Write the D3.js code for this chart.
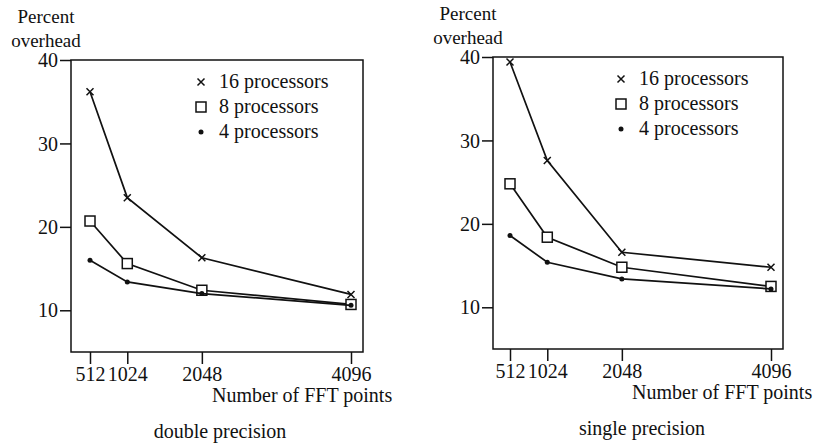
<!DOCTYPE html>
<html>
<head>
<meta charset="utf-8">
<script src="https://cdn.jsdelivr.net/npm/d3@7"></script>
<style>
  body { margin: 0; background: #fff; }
  svg { display: block; }
  text { font-family: "Liberation Serif", "Times New Roman", serif; fill: #111; }
</style>
</head>
<body>
<div id="chart"></div>
<script>
// data
const fftPoints = [512, 1024, 2048, 4096];
const yTickValues = [10, 20, 30, 40];
const seriesNames = ["16 processors", "8 processors", "4 processors"];
const seriesMarks = ["cross", "square", "dot"];

const double16 = [36.2, 23.5, 16.3, 11.9];
const double8 = [20.7, 15.6, 12.4, 10.7];
const double4 = [16.0, 13.4, 12.0, 10.6];

const single16 = [39.4, 27.6, 16.6, 14.8];
const single8 = [24.8, 18.4, 14.8, 12.5];
const single4 = [18.6, 15.4, 13.4, 12.2];

const width = 816, height = 443;

const svg = d3.select("#chart").append("svg")
    .attr("width", width)
    .attr("height", height);

// draw a marker of the given kind at (x, y)
function drawMark(g, kind, x, y) {
    if (kind === "cross") {
        const s = 3.5;
        g.append("path")
            .attr("d", `M${x - s},${y - s}L${x + s},${y + s}M${x - s},${y + s}L${x + s},${y - s}`)
            .attr("stroke", "#111").attr("stroke-width", 1.5).attr("fill", "none");
    } else if (kind === "square") {
        g.append("rect")
            .attr("x", x - 5).attr("y", y - 5)
            .attr("width", 10).attr("height", 10)
            .attr("fill", "#fff").attr("stroke", "#111").attr("stroke-width", 1.5);
    } else {
        g.append("circle")
            .attr("cx", x).attr("cy", y).attr("r", 2.5)
            .attr("fill", "#111");
    }
}

function drawPanel(box, series, title) {
    const g = svg.append("g");

    const xScale = d3.scaleLinear()
        .domain([512, 4096])
        .range([box.x0 + box.padL, box.x1 - 12]);
    const yScale = d3.scaleLinear()
        .domain([5, 40])
        .range([box.y1, box.y0]);

    // frame
    g.append("rect")
        .attr("x", box.x0).attr("y", box.y0)
        .attr("width", box.x1 - box.x0).attr("height", box.y1 - box.y0)
        .attr("fill", "none").attr("stroke", "#111").attr("stroke-width", 1.5);

    // y axis
    const yAxis = d3.axisLeft(yScale).tickValues(yTickValues).tickSize(11).tickPadding(2);
    const ya = g.append("g")
        .attr("transform", `translate(${box.x0},0)`)
        .call(yAxis);
    ya.select(".domain").remove();
    ya.selectAll("line").attr("stroke", "#111").attr("stroke-width", 1.5);
    ya.selectAll("text").style("font-size", "20px").style("font-family", "Liberation Serif").attr("dy", "0.33em");

    // x axis
    const xAxis = d3.axisBottom(xScale).tickValues(fftPoints).tickSize(12).tickPadding(6)
        .tickFormat(d3.format("d"));
    const xa = g.append("g")
        .attr("transform", `translate(0,${box.y1})`)
        .call(xAxis);
    xa.select(".domain").remove();
    xa.selectAll("line").attr("stroke", "#111").attr("stroke-width", 1.5);
    xa.selectAll("text").style("font-size", "20px").style("font-family", "Liberation Serif")
        .attr("dy", "0.55em");

    // lines and markers
    const line = d3.line()
        .x((d, i) => xScale(fftPoints[i]))
        .y(d => yScale(d));

    series.forEach((vals, k) => {
        g.append("path")
            .datum(vals)
            .attr("d", line)
            .attr("fill", "none")
            .attr("stroke", "#111")
            .attr("stroke-width", 1.7);
        vals.forEach((v, i) => drawMark(g, seriesMarks[k], xScale(fftPoints[i]), yScale(v)));
    });

    // legend
    seriesNames.forEach((name, k) => {
        const ly = box.y0 + 22 + k * 25;
        drawMark(g, seriesMarks[k], box.x1 - 162, ly);
        g.append("text")
            .attr("x", box.x1 - 144)
            .attr("y", ly + 6)
            .style("font-size", "20px")
            .text(name);
    });

    // axis titles
    g.append("text")
        .attr("x", box.x0 - 25).attr("y", box.y0 - 37)
        .attr("text-anchor", "middle")
        .style("font-size", "19px")
        .text("Percent");
    g.append("text")
        .attr("x", box.x0 - 25).attr("y", box.y0 - 13)
        .attr("text-anchor", "middle")
        .style("font-size", "19px")
        .text("overhead");
    g.append("text")
        .attr("x", box.x1 - 151).attr("y", box.y1 + 50)
        .style("font-size", "20px")
        .text("Number of FFT points");

    // panel caption
    g.append("text")
        .attr("x", box.x0 + 149).attr("y", box.y1 + 86)
        .attr("text-anchor", "middle")
        .style("font-size", "20px")
        .text(title);
}

drawPanel({ x0: 71, x1: 363, y0: 60, y1: 352, padL: 19 },
    [double16, double8, double4], "double precision");
drawPanel({ x0: 493, x1: 783, y0: 57, y1: 349, padL: 17 },
    [single16, single8, single4], "single precision");
</script>
</body>
</html>
